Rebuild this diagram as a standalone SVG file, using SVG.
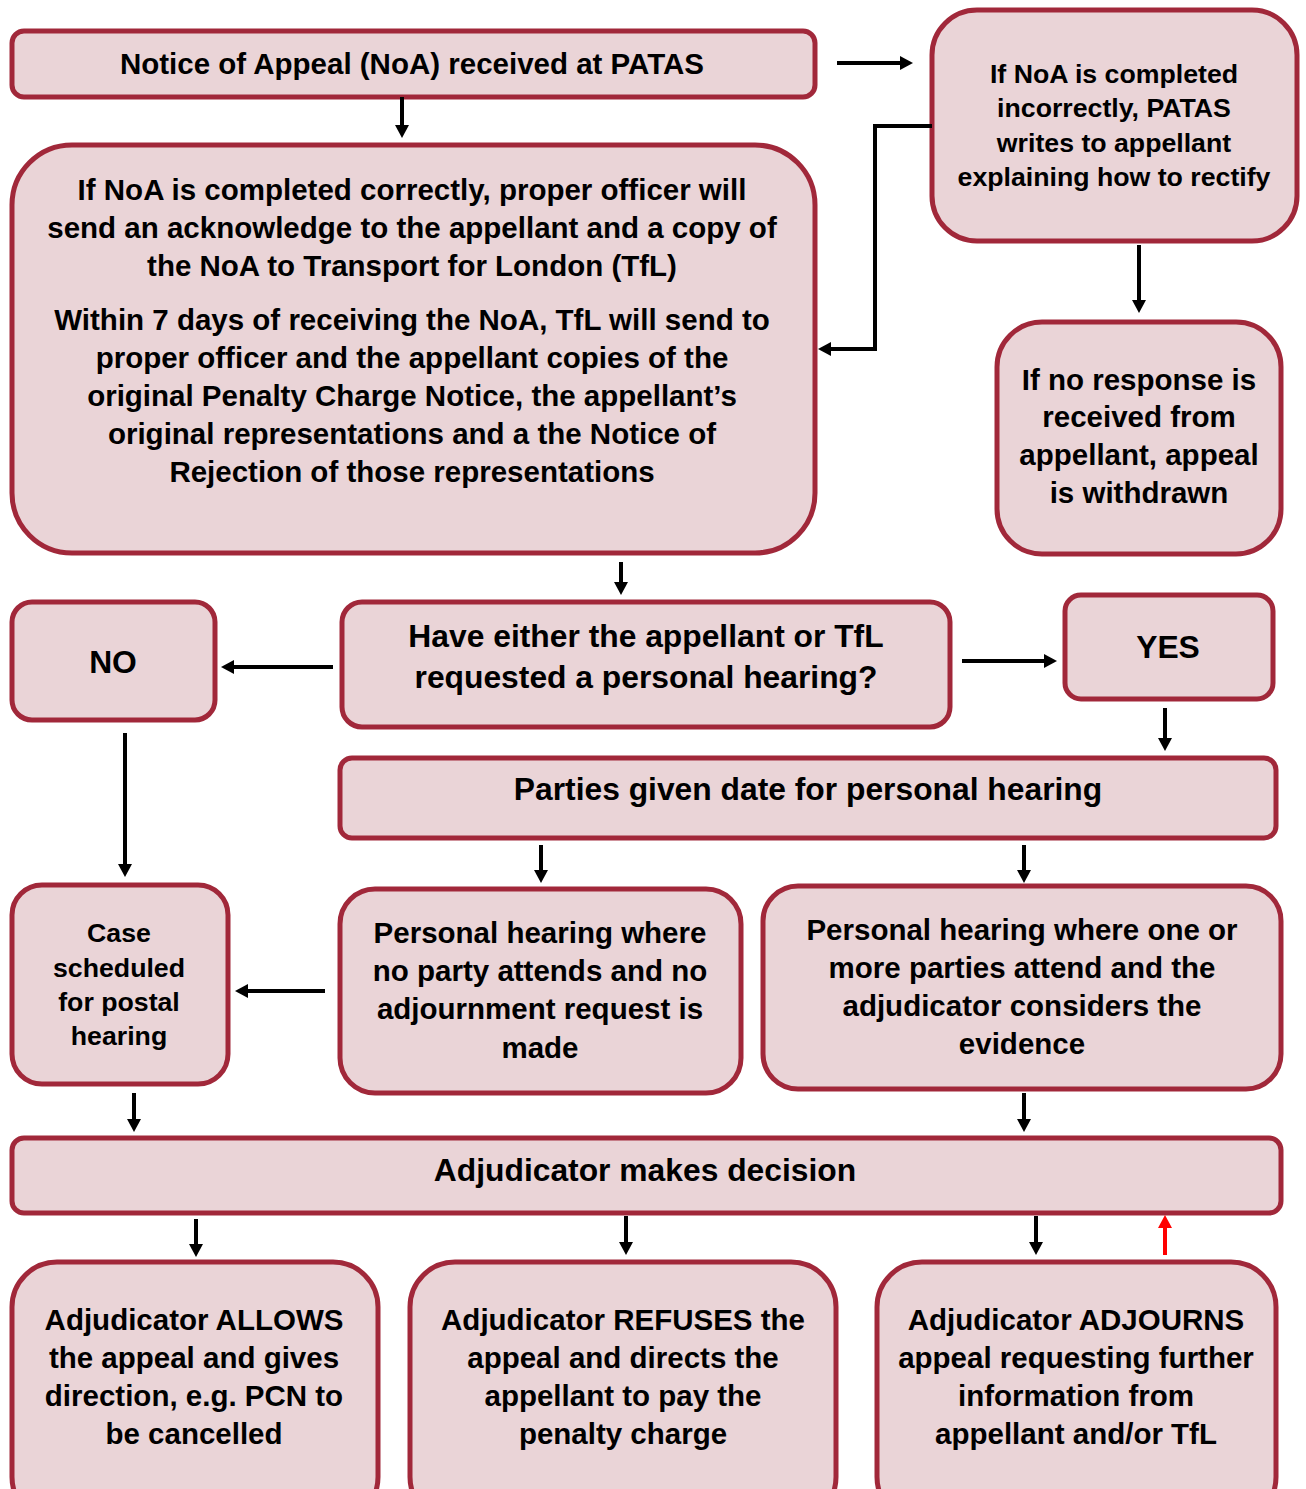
<svg xmlns="http://www.w3.org/2000/svg" width="1306" height="1489" viewBox="0 0 1306 1489">
<style>
.box{fill:#EAD4D7;stroke:#A1283A;stroke-width:5}
text{font-family:"Liberation Sans",Arial,sans-serif;font-weight:bold;fill:#000;text-anchor:middle}
.f26{font-size:29.5px}
.f24{font-size:26.7px}
.f28{font-size:31.8px}
.c{fill:none;stroke:#000;stroke-width:4}
.r{fill:none;stroke:#FF0000;stroke-width:4}
</style>
<defs>
<marker id="ah" markerUnits="userSpaceOnUse" markerWidth="14" markerHeight="14" refX="2" refY="7" orient="auto" viewBox="0 0 14 14">
<path d="M0,0 L13,7 L0,14 z" fill="#000"/>
</marker>
<marker id="ahr" markerUnits="userSpaceOnUse" markerWidth="14" markerHeight="14" refX="2" refY="7" orient="auto" viewBox="0 0 14 14">
<path d="M0,0 L13,7 L0,14 z" fill="#FF0000"/>
</marker>
</defs>
<rect width="1306" height="1489" fill="#fff"/>

<g id="n1">
<rect class="box" x="12" y="31" width="803" height="66" rx="12"/>
<text class="f26" x="412" y="74">Notice of Appeal (NoA) received at PATAS</text>
</g>

<g id="n2">
<rect class="box" x="12" y="145" width="803" height="408" rx="60"/>
<text class="f26" x="412" y="200">If NoA is completed correctly, proper officer will</text>
<text class="f26" x="412" y="238">send an acknowledge to the appellant and a copy of</text>
<text class="f26" x="412" y="276">the NoA to Transport for London (TfL)</text>
<text class="f26" x="412" y="330">Within 7 days of receiving the NoA, TfL will send to</text>
<text class="f26" x="412" y="368">proper officer and the appellant copies of the</text>
<text class="f26" x="412" y="406">original Penalty Charge Notice, the appellant’s</text>
<text class="f26" x="412" y="444">original representations and a the Notice of</text>
<text class="f26" x="412" y="482">Rejection of those representations</text>
</g>

<g id="n3">
<rect class="box" x="932" y="10" width="365" height="231" rx="45"/>
<text class="f24" x="1114" y="83">If NoA is completed</text>
<text class="f24" x="1114" y="117">incorrectly, PATAS</text>
<text class="f24" x="1114" y="152">writes to appellant</text>
<text class="f24" x="1114" y="186">explaining how to rectify</text>
</g>

<g id="n4">
<rect class="box" x="997" y="322" width="284" height="232" rx="45"/>
<text class="f26" x="1139" y="390">If no response is</text>
<text class="f26" x="1139" y="427">received from</text>
<text class="f26" x="1139" y="465">appellant, appeal</text>
<text class="f26" x="1139" y="503">is withdrawn</text>
</g>

<g id="n5">
<rect class="box" x="342" y="602" width="608" height="125" rx="20"/>
<text class="f28" x="646" y="647">Have either the appellant or TfL</text>
<text class="f28" x="646" y="688">requested a personal hearing?</text>
</g>

<g id="no">
<rect class="box" x="12" y="602" width="203" height="118" rx="20"/>
<text class="f28" x="113" y="673">NO</text>
</g>

<g id="yes">
<rect class="box" x="1065" y="595" width="208" height="104" rx="16"/>
<text class="f28" x="1168" y="658">YES</text>
</g>

<g id="n6">
<rect class="box" x="340" y="758" width="936" height="80" rx="12"/>
<text class="f28" x="808" y="800">Parties given date for personal hearing</text>
</g>

<g id="n7">
<rect class="box" x="12" y="885" width="216" height="199" rx="30"/>
<text class="f24" x="119" y="942">Case</text>
<text class="f24" x="119" y="977">scheduled</text>
<text class="f24" x="119" y="1011">for postal</text>
<text class="f24" x="119" y="1045">hearing</text>
</g>

<g id="n8">
<rect class="box" x="340" y="889" width="401" height="204" rx="35"/>
<text class="f26" x="540" y="943">Personal hearing where</text>
<text class="f26" x="540" y="981">no party attends and no</text>
<text class="f26" x="540" y="1019">adjournment request is</text>
<text class="f26" x="540" y="1058">made</text>
</g>

<g id="n9">
<rect class="box" x="763" y="886" width="518" height="203" rx="35"/>
<text class="f26" x="1022" y="940">Personal hearing where one or</text>
<text class="f26" x="1022" y="978">more parties attend and the</text>
<text class="f26" x="1022" y="1016">adjudicator considers the</text>
<text class="f26" x="1022" y="1054">evidence</text>
</g>

<g id="n10">
<rect class="box" x="12" y="1138" width="1269" height="75" rx="12"/>
<text class="f28" x="645" y="1181">Adjudicator makes decision</text>
</g>

<g id="n11">
<rect class="box" x="12" y="1262" width="366" height="260" rx="45"/>
<text class="f26" x="194" y="1330">Adjudicator ALLOWS</text>
<text class="f26" x="194" y="1368">the appeal and gives</text>
<text class="f26" x="194" y="1406">direction, e.g. PCN to</text>
<text class="f26" x="194" y="1444">be cancelled</text>
</g>

<g id="n12">
<rect class="box" x="410" y="1262" width="426" height="260" rx="45"/>
<text class="f26" x="623" y="1330">Adjudicator REFUSES the</text>
<text class="f26" x="623" y="1368">appeal and directs the</text>
<text class="f26" x="623" y="1406">appellant to pay the</text>
<text class="f26" x="623" y="1444">penalty charge</text>
</g>

<g id="n13">
<rect class="box" x="877" y="1262" width="399" height="260" rx="45"/>
<text class="f26" x="1076" y="1330">Adjudicator ADJOURNS</text>
<text class="f26" x="1076" y="1368">appeal requesting further</text>
<text class="f26" x="1076" y="1406">information from</text>
<text class="f26" x="1076" y="1444">appellant and/or TfL</text>
</g>

<g id="connectors">
<line class="c" x1="402" y1="97" x2="402" y2="127" marker-end="url(#ah)"/>
<line class="c" x1="837" y1="63" x2="902" y2="63" marker-end="url(#ah)"/>
<polyline class="c" points="932,126 875,126 875,349 829,349" marker-end="url(#ah)"/>
<line class="c" x1="1139" y1="245" x2="1139" y2="302" marker-end="url(#ah)"/>
<line class="c" x1="621" y1="562" x2="621" y2="584" marker-end="url(#ah)"/>
<line class="c" x1="333" y1="667" x2="232" y2="667" marker-end="url(#ah)"/>
<line class="c" x1="962" y1="661" x2="1046" y2="661" marker-end="url(#ah)"/>
<line class="c" x1="1165" y1="708" x2="1165" y2="740" marker-end="url(#ah)"/>
<line class="c" x1="125" y1="733" x2="125" y2="866" marker-end="url(#ah)"/>
<line class="c" x1="541" y1="845" x2="541" y2="872" marker-end="url(#ah)"/>
<line class="c" x1="1024" y1="845" x2="1024" y2="872" marker-end="url(#ah)"/>
<line class="c" x1="325" y1="991" x2="246" y2="991" marker-end="url(#ah)"/>
<line class="c" x1="134" y1="1093" x2="134" y2="1121" marker-end="url(#ah)"/>
<line class="c" x1="1024" y1="1093" x2="1024" y2="1121" marker-end="url(#ah)"/>
<line class="c" x1="196" y1="1219" x2="196" y2="1246" marker-end="url(#ah)"/>
<line class="c" x1="626" y1="1216" x2="626" y2="1244" marker-end="url(#ah)"/>
<line class="c" x1="1036" y1="1216" x2="1036" y2="1244" marker-end="url(#ah)"/>
<line class="r" x1="1165" y1="1255" x2="1165" y2="1226" marker-end="url(#ahr)"/>
</g>
</svg>
